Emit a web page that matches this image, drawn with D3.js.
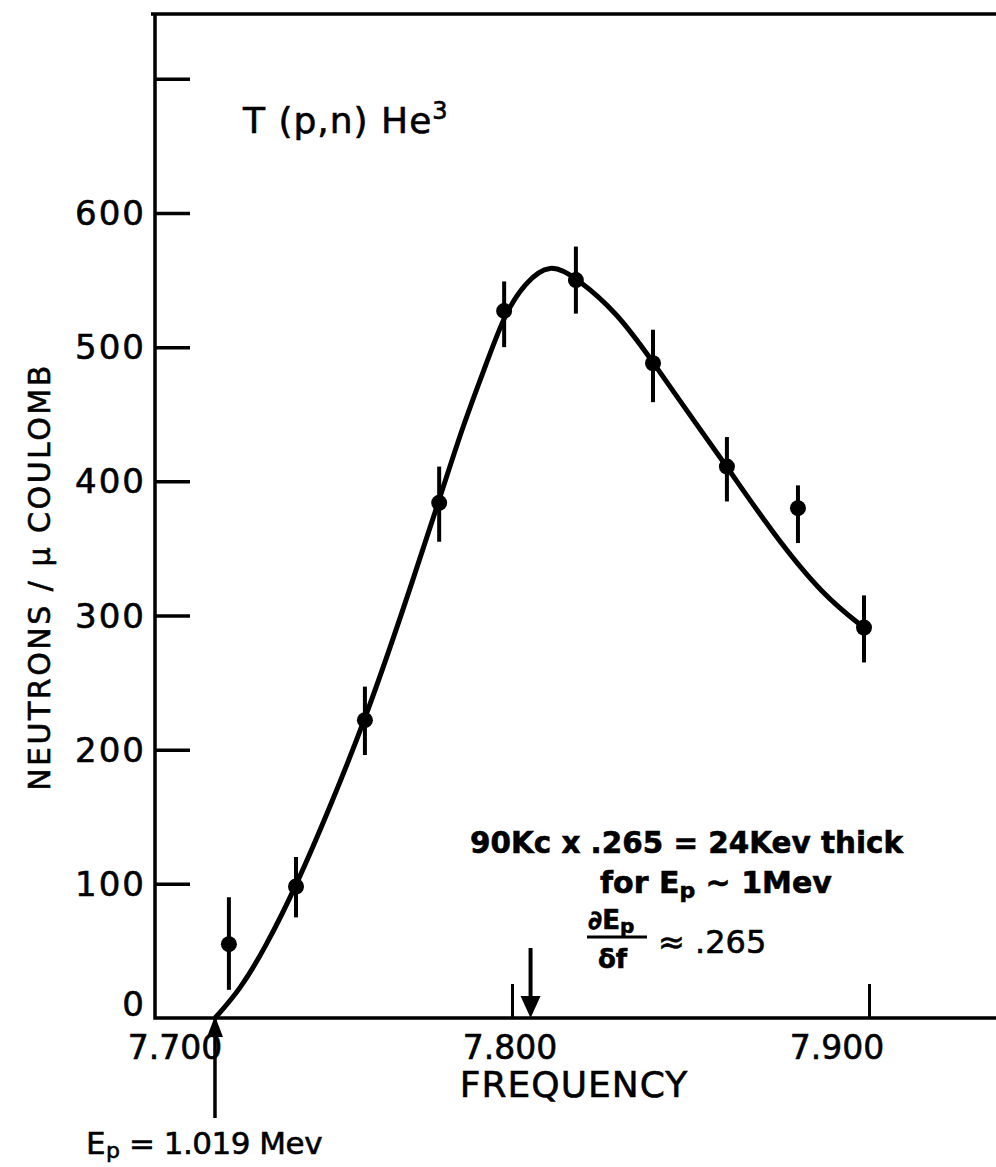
<!DOCTYPE html>
<html>
<head>
<meta charset="utf-8">
<script src="https://cdn.jsdelivr.net/npm/d3@7/dist/d3.min.js"></script>
<style>
  body { margin: 0; background: #fff; }
  text { font-family: "DejaVu Sans", sans-serif; fill: #000; stroke: #000; stroke-width: 0.6; }
</style>
</head>
<body>
<div id="canvas"></div>
<script>
// measured points (frequency in Mc, neutrons / micro coulomb) with error bar ends
var freqs   = [7.7207, 7.7395, 7.7588, 7.7796, 7.7978, 7.8179, 7.8395, 7.8602, 7.8801, 7.8986];
var counts  = [55, 98, 222, 384, 527, 550, 488, 411, 380, 291];
var errLow  = [21, 75, 196, 355, 500, 525, 459, 385, 354, 265];
var errHigh = [90, 120, 247, 411, 549, 575, 513, 433, 397, 315];

// hand drawn fit curve
var fitFreq   = [7.7168, 7.7238, 7.7308, 7.7395, 7.7490, 7.7588, 7.7686, 7.7796, 7.7863, 7.7930, 7.7980,
                 7.8036, 7.8106, 7.8179, 7.8294, 7.8395, 7.8499, 7.8602, 7.8731, 7.8871, 7.8986];
var fitCounts = [0, 21, 52, 98, 157, 222, 297, 386, 442, 489, 525,
                 548, 563, 552, 526, 489, 449, 411, 361, 315, 291];

var yTicks = [100, 200, 300, 400, 500, 600, 700];
var yLabels = [0, 100, 200, 300, 400, 500, 600];
var xTicks = [7.8, 7.9];
var xLabels = ["7.700", "7.800", "7.900"];
var xLabelValues = [7.7, 7.8, 7.9];

var epThreshold = 7.7168;   // Ep = 1.019 Mev
var peakMark = 7.8052;

var width = 996, height = 1167;
var plotLeft = 155, plotTop = 14, plotRight = 996, plotBottom = 1018;

var svg = d3.select("#canvas").append("svg")
  .attr("width", width)
  .attr("height", height);
svg.append("rect").attr("width", width).attr("height", height).attr("fill", "#fff");

var x = d3.scaleLinear().domain([7.7, 7.9]).range([plotLeft, 869]);
var y = d3.scaleLinear().domain([0, 600]).range([plotBottom, 213]);

// frame: top line, left axis, bottom axis
svg.append("path")
  .attr("d", "M" + plotRight + "," + plotTop + "H" + (plotLeft - 4) +
             "M" + plotLeft + "," + plotTop + "V" + plotBottom + "H" + plotRight)
  .attr("fill", "none").attr("stroke", "#000").attr("stroke-width", 3.5);

// y ticks point inward
var yAxis = d3.axisRight(y).tickValues(yTicks).tickSize(35).tickFormat("");
var gy = svg.append("g").attr("transform", "translate(" + plotLeft + ",0)").call(yAxis);
gy.select(".domain").remove();
gy.selectAll("line").attr("stroke", "#000").attr("stroke-width", 3.5);

svg.selectAll("text.ylab")
  .data(yLabels)
  .enter().append("text")
  .attr("class", "ylab")
  .attr("x", 146)
  .attr("y", function(d) { return y(d) + (d === 0 ? -2 : 12); })
  .attr("text-anchor", "end")
  .attr("font-size", 34)
  .attr("letter-spacing", 2)
  .text(function(d) { return d; });

// x ticks go up from the axis
var xAxis = d3.axisTop(x).tickValues(xTicks).tickSize(34).tickFormat("");
var gx = svg.append("g").attr("transform", "translate(0," + plotBottom + ")").call(xAxis);
gx.select(".domain").remove();
gx.selectAll("line").attr("stroke", "#000").attr("stroke-width", 3);

svg.selectAll("text.xlab")
  .data(xLabelValues)
  .enter().append("text")
  .attr("class", "xlab")
  .attr("x", function(d) { return x(d); })
  .attr("dx", function(d) { return d === 7.7 ? 20 : (d === 7.9 ? -32 : -2); })
  .attr("y", 1059)
  .attr("text-anchor", "middle")
  .attr("font-size", 33)
  .text(function(d, i) { return xLabels[i]; });

svg.append("text")
  .attr("x", 574).attr("y", 1097)
  .attr("text-anchor", "middle")
  .attr("font-size", 36)
  .attr("letter-spacing", 1)
  .text("FREQUENCY");

svg.append("text")
  .attr("transform", "translate(50,577) rotate(-90)")
  .attr("text-anchor", "middle")
  .attr("font-size", 30)
  .attr("letter-spacing", 2.5)
  .text("NEUTRONS / \u03bc COULOMB");

// fit curve
var line = d3.line()
  .x(function(d) { return x(d[0]); })
  .y(function(d) { return y(d[1]); })
  .curve(d3.curveBasis);

svg.append("path")
  .datum(d3.zip(fitFreq, fitCounts))
  .attr("d", line)
  .attr("fill", "none")
  .attr("stroke", "#000")
  .attr("stroke-width", 5);

// error bars + points
var pts = svg.selectAll("g.pt")
  .data(d3.range(freqs.length))
  .enter().append("g").attr("class", "pt");

pts.append("line")
  .attr("x1", function(i) { return x(freqs[i]); })
  .attr("x2", function(i) { return x(freqs[i]); })
  .attr("y1", function(i) { return y(errLow[i]); })
  .attr("y2", function(i) { return y(errHigh[i]); })
  .attr("stroke", "#000").attr("stroke-width", 4);

pts.append("circle")
  .attr("cx", function(i) { return x(freqs[i]); })
  .attr("cy", function(i) { return y(counts[i]); })
  .attr("r", 8)
  .attr("fill", "#000");

// threshold arrow (below axis, pointing up)
var ex = x(epThreshold);
svg.append("line")
  .attr("x1", ex).attr("x2", ex).attr("y1", plotBottom).attr("y2", 1118)
  .attr("stroke", "#000").attr("stroke-width", 3.5);
svg.append("path")
  .attr("d", "M" + ex + "," + (plotBottom - 2) + "L" + (ex - 8) + "," + (plotBottom + 19) +
             "L" + (ex + 8) + "," + (plotBottom + 19) + "Z")
  .attr("fill", "#000");

// arrow pointing down onto the axis
var px = x(peakMark);
svg.append("line")
  .attr("x1", px).attr("x2", px).attr("y1", 948).attr("y2", plotBottom - 10)
  .attr("stroke", "#000").attr("stroke-width", 4);
svg.append("path")
  .attr("d", "M" + (px - 10) + "," + (plotBottom - 22) + "L" + (px + 10) + "," + (plotBottom - 22) +
             "L" + px + "," + plotBottom + "Z")
  .attr("fill", "#000");

// labels
var title = svg.append("text").attr("x", 243).attr("y", 133).attr("font-size", 36).attr("letter-spacing", 1);
title.append("tspan").text("T (p,n) He");
title.append("tspan").attr("dy", -14).attr("font-size", 24).text("3");

var ep = svg.append("text").attr("x", 86).attr("y", 1154).attr("font-size", 31).attr("letter-spacing", -0.5);
ep.append("tspan").text("E");
ep.append("tspan").attr("dx", 1).attr("dy", 4).attr("font-size", 22).text("p");
ep.append("tspan").attr("dy", -4).text(" = 1.019 Mev");

svg.append("text")
  .attr("x", 470).attr("y", 853)
  .attr("font-size", 30).attr("font-weight", "bold")
  .attr("textLength", 433).attr("lengthAdjust", "spacingAndGlyphs")
  .text("90Kc x .265 = 24Kev thick");

var l2 = svg.append("text").attr("x", 600).attr("y", 893).attr("font-size", 30).attr("font-weight", "bold");
l2.append("tspan").text("for  E");
l2.append("tspan").attr("dy", 5).attr("font-size", 22).text("p");
l2.append("tspan").attr("dy", -5).text(" ~ 1Mev");

var num = svg.append("text").attr("x", 588).attr("y", 929).attr("font-size", 26).attr("font-weight", "bold");
num.append("tspan").text("\u2202E");
num.append("tspan").attr("dy", 4).attr("font-size", 20).text("p");
svg.append("line")
  .attr("x1", 587).attr("x2", 647).attr("y1", 937).attr("y2", 937)
  .attr("stroke", "#000").attr("stroke-width", 3);
svg.append("text").attr("x", 598).attr("y", 968).attr("font-size", 26).attr("font-weight", "bold").text("\u03b4f");
svg.append("text").attr("x", 658).attr("y", 953).attr("font-size", 32).text("\u2248 .265");
</script>
</body>
</html>
